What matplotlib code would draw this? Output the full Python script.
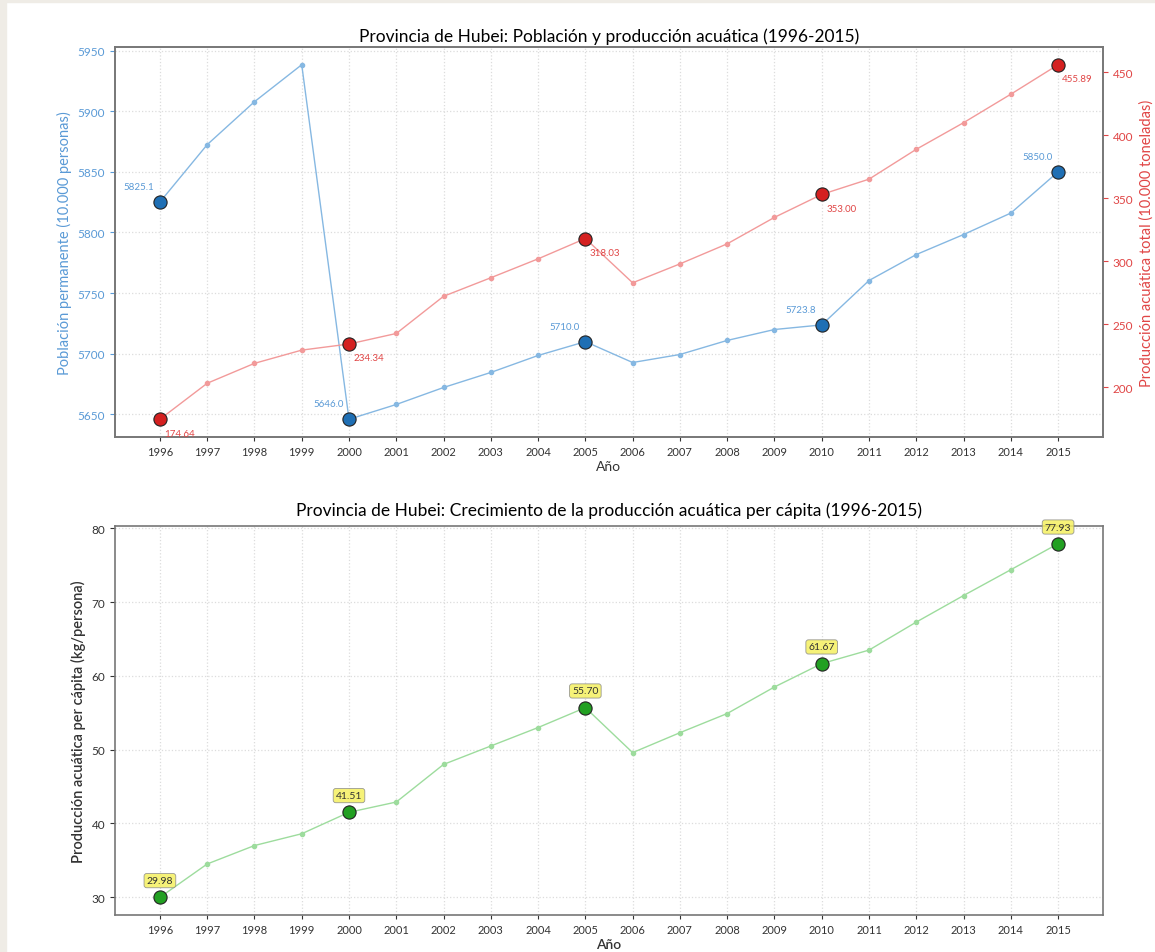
import numpy as np
import matplotlib.pyplot as plt
from matplotlib.patches import Rectangle

plt.rcParams['font.family'] = ['Lato', 'DejaVu Sans']

years = list(range(1996, 2016))
population = [5825.1, 5872.4, 5907.8, 5938.3, 5646.0, 5658.2, 5672.2, 5684.6, 5698.6, 5710.0,
              5692.8, 5699.4, 5711.0, 5720.0, 5723.8, 5760.4, 5781.8, 5798.3, 5816.0, 5850.0]
production = [174.64, 203.2, 219.0, 229.5, 234.34, 242.7, 272.2, 286.9, 301.9, 318.03,
              282.9, 297.9, 313.8, 334.8, 353.00, 365.1, 388.8, 409.9, 432.5, 455.89]
per_capita = [29.98, 34.5, 37.0, 38.6, 41.51, 42.9, 48.0, 50.5, 53.0, 55.70,
              49.6, 52.3, 54.9, 58.5, 61.67, 63.5, 67.3, 70.9, 74.4, 77.93]
key_years = [1996, 2000, 2005, 2010, 2015]

blue_line = '#86b8e2'
blue_txt = '#5a9ad6'
blue_dot = '#1f6fb4'
red_line = '#f29a9a'
red_txt = '#e04545'
red_dot = '#d42020'
green_line = '#9ddc9d'
green_dot = '#22a022'

fig = plt.figure(figsize=(11.55, 9.53), dpi=100)
# beige frame strips of the screenshot
fig.patches.append(Rectangle((0, 0), 6 / 1155, 1, transform=fig.transFigure, color='#efece6', zorder=-1))
fig.patches.append(Rectangle((0, 1 - 3 / 953), 1, 3 / 953, transform=fig.transFigure, color='#efece6', zorder=-1))

idx = [years.index(y) for y in key_years]


def style_axes(ax):
    ax.grid(True, linestyle=':', color='#dcdcdc', linewidth=0.9)
    for s in ax.spines.values():
        s.set_color('#777777')
        s.set_linewidth(1.2)
    ax.set_xticks(years)
    ax.tick_params(axis='x', labelsize=8, colors='#333333', length=3)


# ---- top chart
ax1 = fig.add_axes([115 / 1155, 1 - 438 / 953, 988 / 1155, 390 / 953])
ax2 = ax1.twinx()
style_axes(ax1)
ax1.plot(years, population, color=blue_line, linewidth=1, marker='o', markersize=3)
ax1.plot([years[i] for i in idx], [population[i] for i in idx], 'o', color=blue_dot,
         markersize=9.5, markeredgecolor='#222222', markeredgewidth=0.8, zorder=5)
for i in idx:
    ax1.annotate('{:.1f}'.format(population[i]), (years[i], population[i]), xytext=(-15, 11),
                 textcoords='offset points', ha='center', va='center', fontsize=7, color=blue_txt)
ax1.set_ylabel('Población permanente (10.000 personas)', color=blue_txt, fontsize=10.5)
ax1.tick_params(axis='y', colors=blue_txt, labelsize=8.5)
ax1.set_xlabel('Año', fontsize=10, color='#333333', labelpad=2)

ax2.plot(years, production, color=red_line, linewidth=1, marker='o', markersize=3)
ax2.plot([years[i] for i in idx], [production[i] for i in idx], 'o', color=red_dot,
         markersize=9.5, markeredgecolor='#222222', markeredgewidth=0.8, zorder=5)
for i in idx:
    ax2.annotate('{:.2f}'.format(production[i]), (years[i], production[i]), xytext=(14, -10),
                 textcoords='offset points', ha='center', va='center', fontsize=7, color=red_txt)
ax2.set_ylabel('Producción acuática total (10.000 toneladas)', color=red_txt, fontsize=10.5)
ax2.tick_params(axis='y', colors=red_txt, labelsize=8.5)
for s in ax2.spines.values():
    s.set_color('#777777')
    s.set_linewidth(1.2)
ax1.set_title('Provincia de Hubei: Población y producción acuática (1996-2015)', fontsize=12.5, pad=4)

# ---- bottom chart
ax3 = fig.add_axes([115 / 1155, 1 - 916 / 953, 988 / 1155, 389 / 953])
style_axes(ax3)
ax3.plot(years, per_capita, color=green_line, linewidth=1, marker='o', markersize=3)
ax3.plot([years[i] for i in idx], [per_capita[i] for i in idx], 'o', color=green_dot,
         markersize=9.5, markeredgecolor='#222222', markeredgewidth=0.8, zorder=5)
for i in idx:
    ax3.annotate('{:.2f}'.format(per_capita[i]), (years[i], per_capita[i]), xytext=(0, 12),
                 textcoords='offset points', ha='center', va='center', fontsize=7.5, color='#333333',
                 bbox=dict(boxstyle='round,pad=0.25', fc='#f5f060', ec='#888888', lw=0.6, alpha=0.85))
ax3.tick_params(axis='y', colors='#333333', labelsize=8.5)
ax3.set_ylabel('Producción acuática per cápita (kg/persona)', fontsize=10.5, color='#333333',
               fontweight='semibold')
ax3.set_xlabel('Año', fontsize=10, color='#333333', fontweight='semibold', labelpad=2)
ax3.set_title('Provincia de Hubei: Crecimiento de la producción acuática per cápita (1996-2015)',
              fontsize=12.5, pad=8)

fig.savefig('out.png', dpi=100)
